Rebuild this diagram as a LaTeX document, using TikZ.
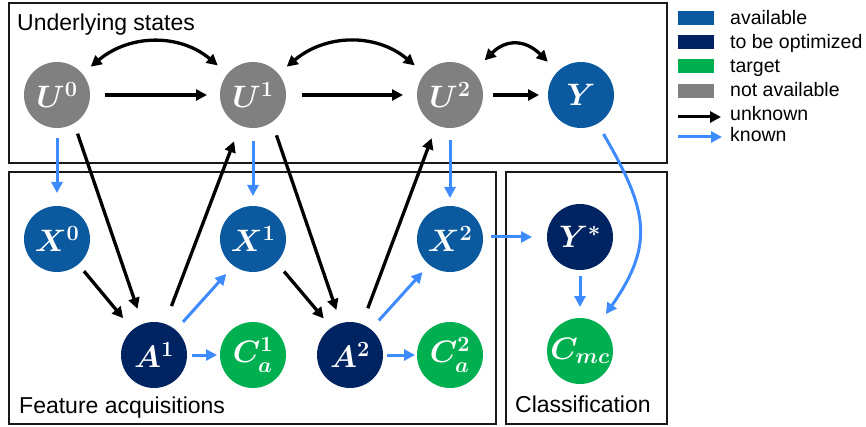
\RequirePackage{fix-cm}
\documentclass[tikz,border=0pt]{standalone}
\usepackage{fontspec}
\setmainfont{Liberation Sans}
\usepackage{amsmath}
\usetikzlibrary{arrows.meta}
\definecolor{cavail}{HTML}{0B5AA0}
\definecolor{copt}{HTML}{002462}
\definecolor{ctarget}{HTML}{00B050}
\definecolor{cna}{HTML}{808080}
\definecolor{cknown}{HTML}{3D8BFF}
\newcommand\ndfont{\fontsize{31}{31}\selectfont\boldmath}
\newcommand\ttlfont{\fontsize{23}{26}\selectfont}
\newcommand\lgfont{\fontsize{19.5}{22}\selectfont}
\tikzset{
  st/.style={circle, minimum size=66pt, inner sep=0pt, outer sep=0pt, text=white, font=\ndfont},
  navail/.style={st, fill=cavail},
  nopt/.style={st, fill=copt},
  ntarget/.style={st, fill=ctarget},
  nna/.style={st, fill=cna},
  tip/.style={-{Triangle[length=11pt,width=11pt]}},
  barr/.style={line width=3.3pt, draw=black, tip},
  darr/.style={line width=3.3pt, draw=black, {Triangle[length=11pt,width=11pt]}-{Triangle[length=11pt,width=11pt]}},
  karr/.style={line width=3pt, draw=cknown, -{Triangle[length=11pt,width=11pt]}},
  boxline/.style={line width=1.6pt, draw=black!90},
  lsq/.style={minimum width=36pt, minimum height=14pt, inner sep=0pt, outer sep=0pt},
  ltxt/.style={anchor=base west, font=\lgfont, inner sep=0pt},
  ttl/.style={anchor=base west, font=\ttlfont, inner sep=0pt},
}
\begin{document}
\begin{tikzpicture}[x=1pt, y=-1pt]
\useasboundingbox (0,0) rectangle (866,427);
% boxes
\draw[boxline] (9,3) rectangle (667,163);
\draw[boxline] (9,172) rectangle (496,424);
\draw[boxline] (506,172) rectangle (667,424);
\node[ttl] (tU) at (17,31) {Underlying states};
\node[ttl] (tF) at (19,413) {Feature acquisitions};
\node[ttl] (tC) at (515,412) {Classification};
% nodes
\node[nna] (U0) at (57,95) {$U^{0}$};
\node[nna] (U1) at (253,95) {$U^{1}$};
\node[nna] (U2) at (450,95) {$U^{2}$};
\node[navail] (Y) at (581,95) {$Y$};
\node[navail] (X0) at (57,239) {$X^{0}$};
\node[navail] (X1) at (253,239) {$X^{1}$};
\node[navail] (X2) at (450,239) {$X^{2}$};
\node[nopt] (Ys) at (580,237) {$Y^{*}$};
\node[nopt] (A1) at (154,355) {$A^{1}$};
\node[ntarget] (C1) at (253,355) {$C_{a}^{1}$};
\node[nopt] (A2) at (350,355) {$A^{2}$};
\node[ntarget] (C2) at (450,355) {$C_{a}^{2}$};
\node[ntarget] (Cm) at (580,351) {$C_{mc}$};
% top row
\draw[barr, shorten <=15pt, shorten >=13pt] (U0) -- (U1);
\draw[barr, shorten <=16pt, shorten >=14pt] (U1) -- (U2);
\draw[barr, shorten <=10pt, shorten >=9pt] (U2) -- (Y);
\draw[darr, shorten <=11pt, shorten >=13pt] (U0) to[out=40,in=140,looseness=1.1] (U1);
\draw[darr, shorten <=11pt, shorten >=13pt] (U1) to[out=40,in=140,looseness=1.1] (U2);
\draw[darr, shorten <=16pt, shorten >=14pt] (U2) to[out=45,in=135,looseness=1.4] (Y);
% U -> X
\draw[karr, shorten <=10pt, shorten >=13pt] (U0) -- (X0);
\draw[karr, shorten <=13pt, shorten >=10pt] (U1) -- (X1);
\draw[karr, shorten <=12pt, shorten >=8pt] (U2) -- (X2);
% to A1
\draw[barr, shorten <=11pt, shorten >=16pt] (U0.-59) -- (A1.110);
\draw[barr, shorten <=9pt, shorten >=15pt] (X0.-50) -- (A1.130);
\draw[barr, shorten <=19pt, shorten >=17pt] (A1.71) -- (U1.-113);
\draw[karr, shorten <=11pt, shorten >=11pt] (A1.49) -- (X1.-126);
\draw[karr, shorten <=5pt, shorten >=3pt] (A1) -- (C1);
% to A2
\draw[barr, shorten <=14pt, shorten >=14pt] (U1.-55) -- (A2.106);
\draw[barr, shorten <=12pt, shorten >=12pt] (X1.-45) -- (A2.124);
\draw[barr, shorten <=17pt, shorten >=14pt] (A2.69) -- (U2.-114);
\draw[karr, shorten <=12pt, shorten >=10pt] (A2.51) -- (X2.-129);
\draw[karr, shorten <=4pt, shorten >=2pt] (A2) -- (C2);
% classification
\draw[karr, shorten <=8pt, shorten >=15pt] (X2.east |- Ys) -- (Ys.west);
\draw[karr, shorten <=6pt, shorten >=11pt] (Ys) -- (Cm);
\draw[karr, shorten <=12pt, shorten >=12pt] (Y) to[out=-60,in=55,looseness=1.26] (Cm);
% legend
\node[lsq, fill=cavail] (L1) at (696,18.5) {};
\node[lsq, fill=copt] (L2) at (696,42.5) {};
\node[lsq, fill=ctarget] (L3) at (696,66.5) {};
\node[lsq, fill=cna] (L4) at (696,91) {};
\node[ltxt] (L1t) at (730,25) {available};
\node[ltxt] (L2t) at (730,48.5) {to be optimized};
\node[ltxt] (L3t) at (730,72.5) {target};
\node[ltxt] (L4t) at (730,97) {not available};
\coordinate (k1a) at (678,117);
\coordinate (k1b) at (721,117);
\coordinate (k2a) at (678,137);
\coordinate (k2b) at (722,137);
\draw[barr, line width=3pt] (k1a) -- (k1b);
\draw[karr] (k2a) -- (k2b);
\node[ltxt] (L5t) at (730,121) {unknown};
\node[ltxt] (L6t) at (730,142) {known};
\end{tikzpicture}
\end{document}
